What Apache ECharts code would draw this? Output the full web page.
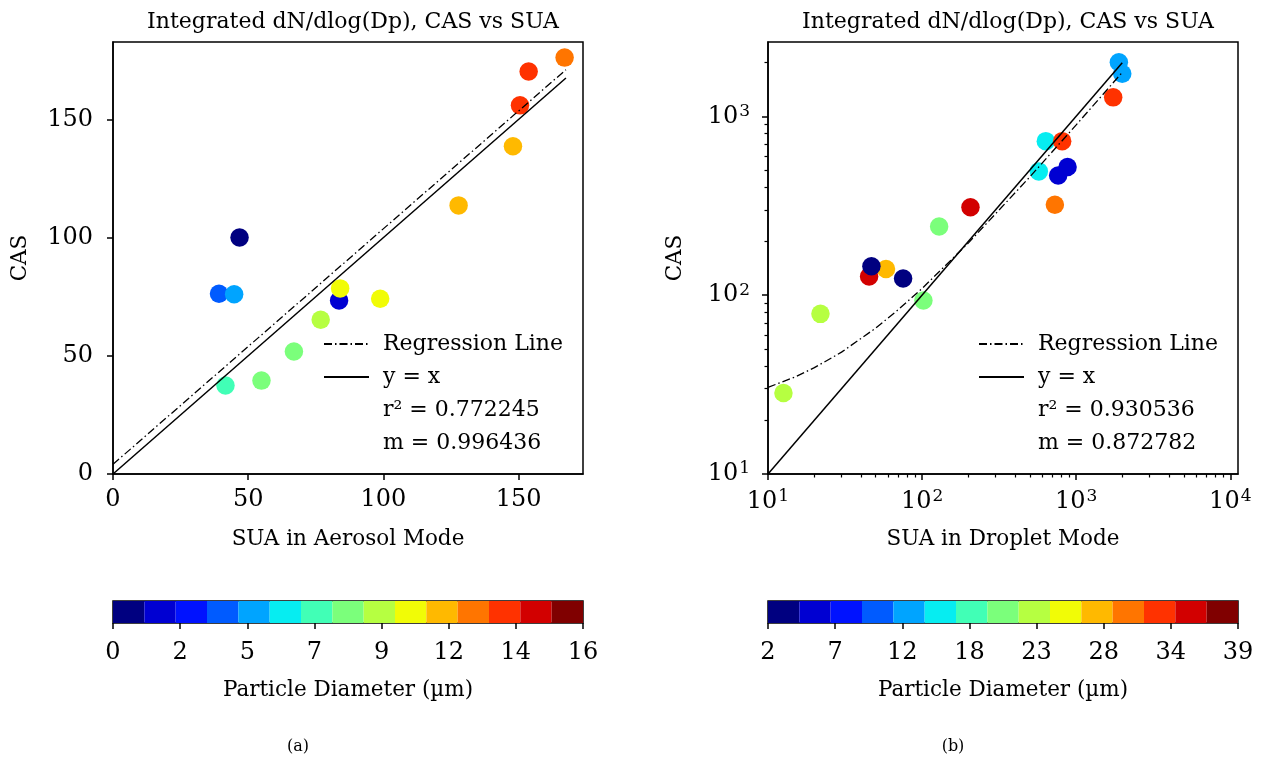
<!DOCTYPE html>
<html>
<head>
<meta charset="utf-8">
<script src="https://cdn.jsdelivr.net/npm/echarts@6/dist/echarts.min.js"></script>
<style>
html, body { margin: 0; padding: 0; background: #fff; }
#main { width: 1271px; height: 758px; }
</style>
</head>
<body>
<div id="main"></div>
<script>
// jet colormap cut into 15 bins (colorbar cells)
var jetColors = ['#000080', '#0000d2', '#0012ff', '#005bff', '#00a4ff', '#06edf1', '#41ffb6', '#7bff7b',
    '#b6ff41', '#f1fc06', '#ffb900', '#ff7500', '#ff3200', '#d20000', '#800000'];

// (a) aerosol mode
var suaAerosol = [41.6, 54.9, 66.9, 76.8, 83.6, 84.0, 98.8, 46.8, 39.2, 44.8, 127.8, 147.9, 150.5, 153.7, 167.0];
var casAerosol = [37.4, 39.5, 51.8, 65.2, 73.4, 78.5, 74.1, 100.0, 76.2, 76.0, 113.6, 138.6, 155.9, 170.2, 176.1];
var diamAerosol = [7.1, 8.2, 8.2, 9.2, 1.6, 10.3, 10.3, 0.5, 3.8, 4.9, 11.4, 11.4, 13.6, 13.6, 12.5];
var diamRangeA = [0, 16.3];
var cbTicksA = ['0', '2', '5', '7', '9', '12', '14', '16'];
var regAx = [0, 167.5];
var regAy = [4.1, 171.0];
var oneA = [0, 167.5];
var r2A = '0.772245';
var slopeA = '0.996436';

// (b) droplet mode
var suaDroplet = [12.6, 21.9, 102, 129, 206, 45.3, 58.3, 46.9, 75.3, 572, 635, 811, 727, 764, 879, 1738, 1990, 1892];
var casDroplet = [28.4, 78.6, 93.3, 242, 310, 127, 140, 145, 124, 492, 726, 726, 320, 467, 520, 1276, 1730, 2004];
var diamDroplet = [22.8, 22.8, 20.3, 20.3, 35.3, 35.3, 27.8, 2.9, 2.9, 15.3, 15.3, 32.8, 30.3, 5.4, 5.4, 32.8, 12.8, 12.8];
var diamRangeB = [1.6, 39.05];
var cbTicksB = ['2', '7', '12', '18', '23', '28', '34', '39'];
var regBx = [10, 15, 20, 30, 50, 70, 100, 200, 500, 1000, 1990];
var regBy = [30.5, 34.9, 39.3, 48.0, 65.4, 82.9, 109, 196, 458, 895, 1759];
var oneB = [10, 1990];
var r2B = '0.930536';
var slopeB = '0.872782';

var font = 'DejaVu Serif';
var black = '#000';
var hidden = 'rgba(0,0,0,0)';

function zip(a, b, c) {
    return a.map(function(v, i) {
        return c ? [v, b[i], c[i]] : [v, b[i]];
    });
}

function pieces(range) {
    var w = (range[1] - range[0]) / jetColors.length;
    return jetColors.map(function(c, i) {
        return { gte: range[0] + i * w, lt: range[0] + (i + 1) * w, color: c };
    });
}

// 2..9 x 10^n positions for the log axes' minor ticks
function minorTicks(lo, hi) {
    var out = [];
    for (var d = 1; d < 100000; d *= 10) {
        for (var k = 2; k < 10; k++) {
            var v = k * d;
            if (v > lo && v < hi) out.push(v);
        }
    }
    return out;
}

function pow10(v) {
    var e = Math.round(Math.log(v) / Math.LN10);
    return '{b|10}{s|' + e + '}';
}

var labelStyle = { fontFamily: font, fontSize: 24, color: black };
var powRich = {
    b: { fontFamily: font, fontSize: 24, color: black },
    s: { fontFamily: font, fontSize: 17, color: black, verticalAlign: 'top', padding: [0, 0, 10, 1] }
};
var nameStyle = { fontFamily: font, fontSize: 21.5, color: black };
var lineAx = { show: true, lineStyle: { color: black, width: 1.5 } };
var noLine = { show: true, lineStyle: { color: hidden, width: 0 } };
var legendText = { fontFamily: font, fontSize: 22, color: black, padding: [0, 0, 0, 9] };

function ticks(values, len, w) {
    return { show: true, inside: false, length: len, customValues: values, lineStyle: { color: black, width: w } };
}

var xLimA = [0, 173.8], yLimA = [0, 182.7];
var xLimB = [10, 11220], yLimB = [10, 2602];
var cbPos = [0, 1, 2, 3, 4, 5, 6, 7];

var chart = echarts.init(document.getElementById('main'));

function gridBox(left, top, height) {
    return { left: left, top: top, width: 470, height: height, show: true, borderColor: black, borderWidth: 1.5,
        backgroundColor: 'transparent', outerBoundsMode: 'none' };
}

function titleText(text, left, top, size) {
    return { text: text, left: left, top: top, textAlign: 'center',
        textStyle: { fontFamily: font, fontSize: size, fontWeight: 'normal', color: black } };
}

function dummy(name, xi) {
    return { type: 'line', name: name, xAxisIndex: xi, yAxisIndex: xi, symbol: 'none', data: [],
        lineStyle: { color: hidden, width: 0 }, itemStyle: { color: hidden } };
}

function cbAxis(grid, labels) {
    return { gridIndex: grid, type: 'value', position: 'bottom', min: 0, max: 7, splitLine: { show: false },
        axisLine: noLine, axisTick: ticks(cbPos, 6, 1.5),
        axisLabel: Object.assign({ customValues: cbPos, margin: 18, formatter: function(v) { return labels[Math.round(v)]; } }, labelStyle),
        name: 'Particle Diameter (µm)', nameLocation: 'middle', nameGap: 56, nameTextStyle: nameStyle };
}

function cbCells(grid) {
    return { gridIndex: grid, type: 'category', position: 'top', show: false, data: jetColors.map(function(c, i) { return i; }) };
}

var option = {
    animation: false,
    backgroundColor: '#fff',
    title: [
        titleText('Integrated dN/dlog(Dp), CAS vs SUA', 348, 6, 22),
        titleText('Integrated dN/dlog(Dp), CAS vs SUA', 1003, 6, 22),
        titleText('(a)', 293, 734, 16),
        titleText('(b)', 948, 734, 16)
    ],
    grid: [gridBox(113, 42, 432), gridBox(768, 42, 432), gridBox(113, 601, 22), gridBox(768, 601, 22)],
    xAxis: [
        { gridIndex: 0, type: 'value', position: 'bottom', min: xLimA[0], max: xLimA[1], splitLine: { show: false },
          axisLine: lineAx, axisTick: ticks([0, 50, 100, 150], 6, 1.5),
          axisLabel: Object.assign({ customValues: [0, 50, 100, 150], margin: 14 }, labelStyle),
          name: 'SUA in Aerosol Mode', nameLocation: 'middle', nameGap: 54, nameTextStyle: nameStyle },
        { gridIndex: 1, type: 'log', logBase: 10, position: 'bottom', min: xLimB[0], max: xLimB[1], splitLine: { show: false },
          axisLine: lineAx, axisTick: ticks([10, 100, 1000, 10000], 6, 1.5),
          axisLabel: { customValues: [10, 100, 1000, 10000], margin: 14, formatter: pow10, rich: powRich },
          name: 'SUA in Droplet Mode', nameLocation: 'middle', nameGap: 54, nameTextStyle: nameStyle },
        { gridIndex: 1, type: 'log', logBase: 10, position: 'bottom', offset: 0, min: xLimB[0], max: xLimB[1], splitLine: { show: false },
          axisLine: noLine, axisLabel: { show: false },
          axisTick: ticks(minorTicks(xLimB[0], xLimB[1]), 3.5, 1.2) },
        cbCells(2),
        cbAxis(2, cbTicksA),
        cbCells(3),
        cbAxis(3, cbTicksB)
    ],
    yAxis: [
        { gridIndex: 0, type: 'value', position: 'left', min: yLimA[0], max: yLimA[1], splitLine: { show: false },
          axisLine: lineAx, axisTick: ticks([0, 50, 100, 150], 6, 1.5),
          axisLabel: Object.assign({ customValues: [0, 50, 100, 150], margin: 20 }, labelStyle),
          name: 'CAS', nameLocation: 'middle', nameGap: 82, nameTextStyle: nameStyle },
        { gridIndex: 1, type: 'log', logBase: 10, position: 'left', min: yLimB[0], max: yLimB[1], splitLine: { show: false },
          axisLine: lineAx, axisTick: ticks([10, 100, 1000], 6, 1.5),
          axisLabel: { customValues: [10, 100, 1000], margin: 18, formatter: pow10, rich: powRich },
          name: 'CAS', nameLocation: 'middle', nameGap: 82, nameTextStyle: nameStyle },
        { gridIndex: 1, type: 'log', logBase: 10, position: 'left', offset: 0, min: yLimB[0], max: yLimB[1], splitLine: { show: false },
          axisLine: noLine, axisLabel: { show: false },
          axisTick: ticks(minorTicks(yLimB[0], yLimB[1]), 3.5, 1.2) },
        { gridIndex: 2, type: 'value', min: 0, max: 1, show: false },
        { gridIndex: 3, type: 'value', min: 0, max: 1, show: false }
    ],
    visualMap: [
        { type: 'piecewise', show: false, dimension: 2, seriesIndex: 0, pieces: pieces(diamRangeA) },
        { type: 'piecewise', show: false, dimension: 2, seriesIndex: 5, pieces: pieces(diamRangeB) }
    ],
    legend: [
        { left: 318, top: 328, orient: 'vertical', itemWidth: 45, itemHeight: 14, itemGap: 11, selectedMode: false,
          itemStyle: { opacity: 0 },
          data: ['Regression Line', 'y = x', 'r² = ' + r2A, 'm = ' + slopeA], textStyle: legendText },
        { left: 973, top: 328, orient: 'vertical', itemWidth: 45, itemHeight: 14, itemGap: 11, selectedMode: false,
          itemStyle: { opacity: 0 },
          data: ['Regression Line ', 'y = x ', 'r² = ' + r2B, 'm = ' + slopeB], textStyle: legendText }
    ],
    series: [
        { type: 'scatter', xAxisIndex: 0, yAxisIndex: 0, symbolSize: 18.5, itemStyle: { opacity: 1 },
          data: zip(suaAerosol, casAerosol, diamAerosol), z: 2 },
        { type: 'line', name: 'Regression Line', xAxisIndex: 0, yAxisIndex: 0, symbol: 'none', z: 3,
          lineStyle: { color: black, width: 1.3, type: [8, 3, 1.5, 3] }, data: zip(regAx, regAy) },
        { type: 'line', name: 'y = x', xAxisIndex: 0, yAxisIndex: 0, symbol: 'none', z: 3,
          lineStyle: { color: black, width: 1.5 }, data: zip(oneA, oneA) },
        dummy('r² = ' + r2A, 0),
        dummy('m = ' + slopeA, 0),

        { type: 'scatter', xAxisIndex: 1, yAxisIndex: 1, symbolSize: 18.5, itemStyle: { opacity: 1 },
          data: zip(suaDroplet, casDroplet, diamDroplet), z: 2 },
        { type: 'line', name: 'Regression Line ', xAxisIndex: 1, yAxisIndex: 1, symbol: 'none', z: 3,
          lineStyle: { color: black, width: 1.3, type: [8, 3, 1.5, 3] }, data: zip(regBx, regBy) },
        { type: 'line', name: 'y = x ', xAxisIndex: 1, yAxisIndex: 1, symbol: 'none', z: 3,
          lineStyle: { color: black, width: 1.5 }, data: zip(oneB, oneB) },
        dummy('r² = ' + r2B, 1),
        dummy('m = ' + slopeB, 1),

        { type: 'bar', xAxisIndex: 3, yAxisIndex: 3, barCategoryGap: '0%', silent: true,
          data: jetColors.map(function(c) { return { value: 1, itemStyle: { color: c } }; }) },
        { type: 'bar', xAxisIndex: 5, yAxisIndex: 4, barCategoryGap: '0%', silent: true,
          data: jetColors.map(function(c) { return { value: 1, itemStyle: { color: c } }; }) }
    ]
};

chart.setOption(option);
</script>
</body>
</html>
